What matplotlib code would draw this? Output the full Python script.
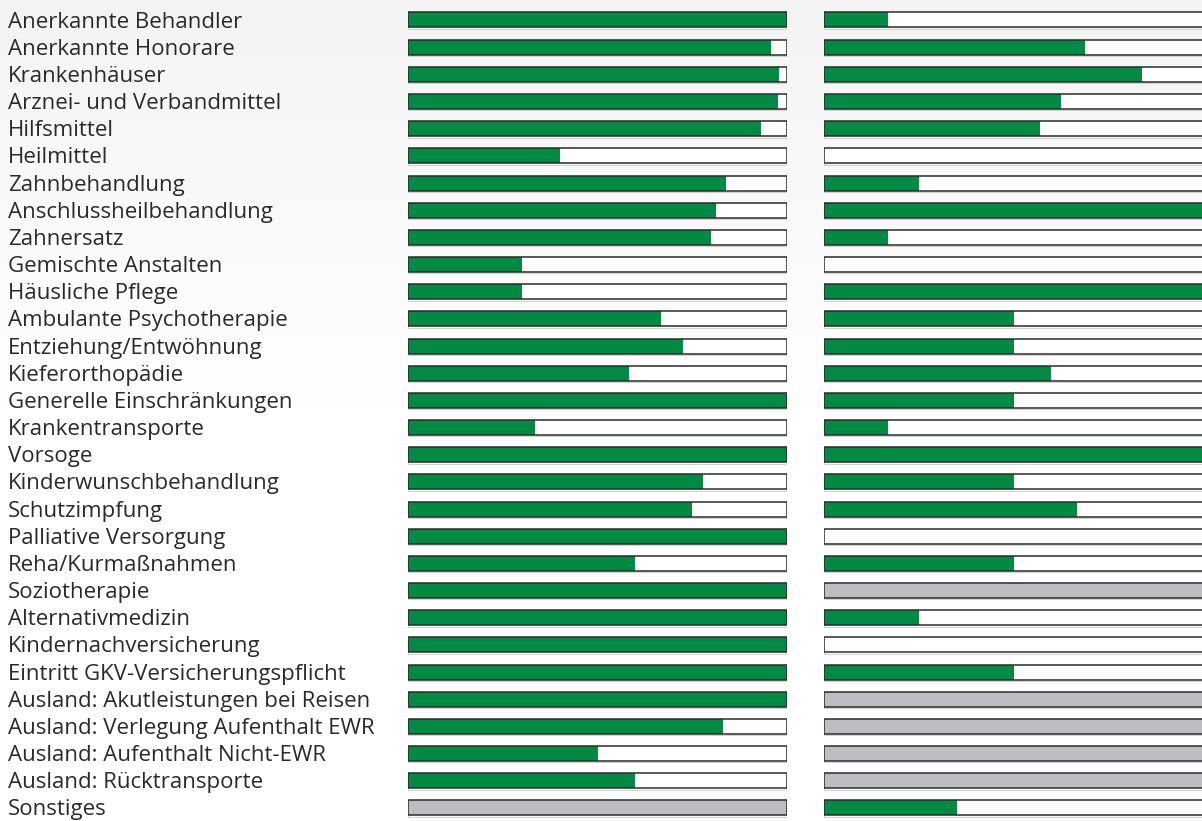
import numpy as np
import matplotlib
matplotlib.use('Agg')
import matplotlib.pyplot as plt
import matplotlib.transforms as mtransforms

labels = ['Anerkannte Behandler', 'Anerkannte Honorare', 'Krankenhäuser',
          'Arznei- und Verbandmittel', 'Hilfsmittel', 'Heilmittel',
          'Zahnbehandlung', 'Anschlussheilbehandlung', 'Zahnersatz',
          'Gemischte Anstalten', 'Häusliche Pflege', 'Ambulante Psychotherapie',
          'Entziehung/Entwöhnung', 'Kieferorthopädie', 'Generelle Einschränkungen',
          'Krankentransporte', 'Vorsoge', 'Kinderwunschbehandlung', 'Schutzimpfung',
          'Palliative Versorgung', 'Reha/Kurmaßnahmen', 'Soziotherapie',
          'Alternativmedizin', 'Kindernachversicherung',
          'Eintritt GKV-Versicherungspflicht', 'Ausland: Akutleistungen bei Reisen',
          'Ausland: Verlegung Aufenthalt EWR', 'Ausland: Aufenthalt Nicht-EWR',
          'Ausland: Rücktransporte', 'Sonstiges']

# share of fulfilled criteria, NaN = not applicable (grey bar)
left_vals = [1.0, 0.958, 0.979, 0.976, 0.931, 0.401, 0.839, 0.813, 0.80,
             0.30, 0.30, 0.667, 0.726, 0.583, 1.0, 0.335, 1.0, 0.778, 0.749,
             1.0, 0.599, 1.0, 1.0, 1.0, 1.0, 1.0, 0.831, 0.501, 0.599, np.nan]
right_vals = [0.169, 0.689, 0.839, 0.625, 0.570, 0.0, 0.251, 1.0, 0.169,
              0.0, 1.0, 0.5, 0.5, 0.599, 0.5, 0.169, 1.0, 0.5, 0.668,
              0.0, 0.5, np.nan, 0.251, 0.0, 0.5, np.nan, np.nan, np.nan, np.nan, 0.351]

green = '#008a42'
grey = '#bcbdc1'
edge = '#2b2b2b'

W, H = 1202, 821
fig = plt.figure(figsize=(W / 100, H / 100), dpi=100)

# faint grey gradient at the top of the page
bg = fig.add_axes([0, 0, 1, 1])
grad = np.linspace(0.955, 1.0, 256).reshape(-1, 1)
grad = np.clip(np.concatenate([grad, np.ones((256, 1))]), 0, 1)
bg.imshow(np.dstack([grad] * 3), aspect='auto', extent=[0, 1, 0, 1])
bg.set_axis_off()

n = len(labels)
y = np.arange(n)
top_px, step = 20, 27.17
ylim = ((H - top_px) / step, -top_px / step)
bh = 15 / step


def draw(ax, vals):
    vals = np.array(vals, dtype=float)
    na = np.isnan(vals)
    base = np.where(na, grey, 'white')
    ax.barh(y, np.ones(n), height=bh, color=base, edgecolor='none', zorder=1)
    ax.barh(y, np.nan_to_num(vals), height=bh, color=green, edgecolor='none', zorder=2)
    ax.barh(y + 0.05, np.ones(n), height=bh, facecolor='none', edgecolor='#d2d2d2',
            linewidth=0.8, zorder=0)
    ax.barh(y, np.ones(n), height=bh, facecolor='none', edgecolor=edge,
            linewidth=1.1, zorder=3)
    ax.set_xlim(0, 1)
    ax.set_ylim(*ylim)
    ax.set_axis_off()


axl = fig.add_axes([408 / W, 0, 379 / W, 1])
axl.patch.set_alpha(0)
draw(axl, left_vals)
axr = fig.add_axes([824 / W, 0, 379 / W, 1])
axr.patch.set_alpha(0)
draw(axr, right_vals)

trans = mtransforms.blended_transform_factory(fig.transFigure, axl.transData)
for i, lab in enumerate(labels):
    axl.text(8 / W, i + 7.5 / step, lab, transform=trans, ha='left', va='baseline',
             fontsize=16, family='Open Sans', color='#2a2a2a', clip_on=False)

fig.savefig('out.png', dpi=100)
